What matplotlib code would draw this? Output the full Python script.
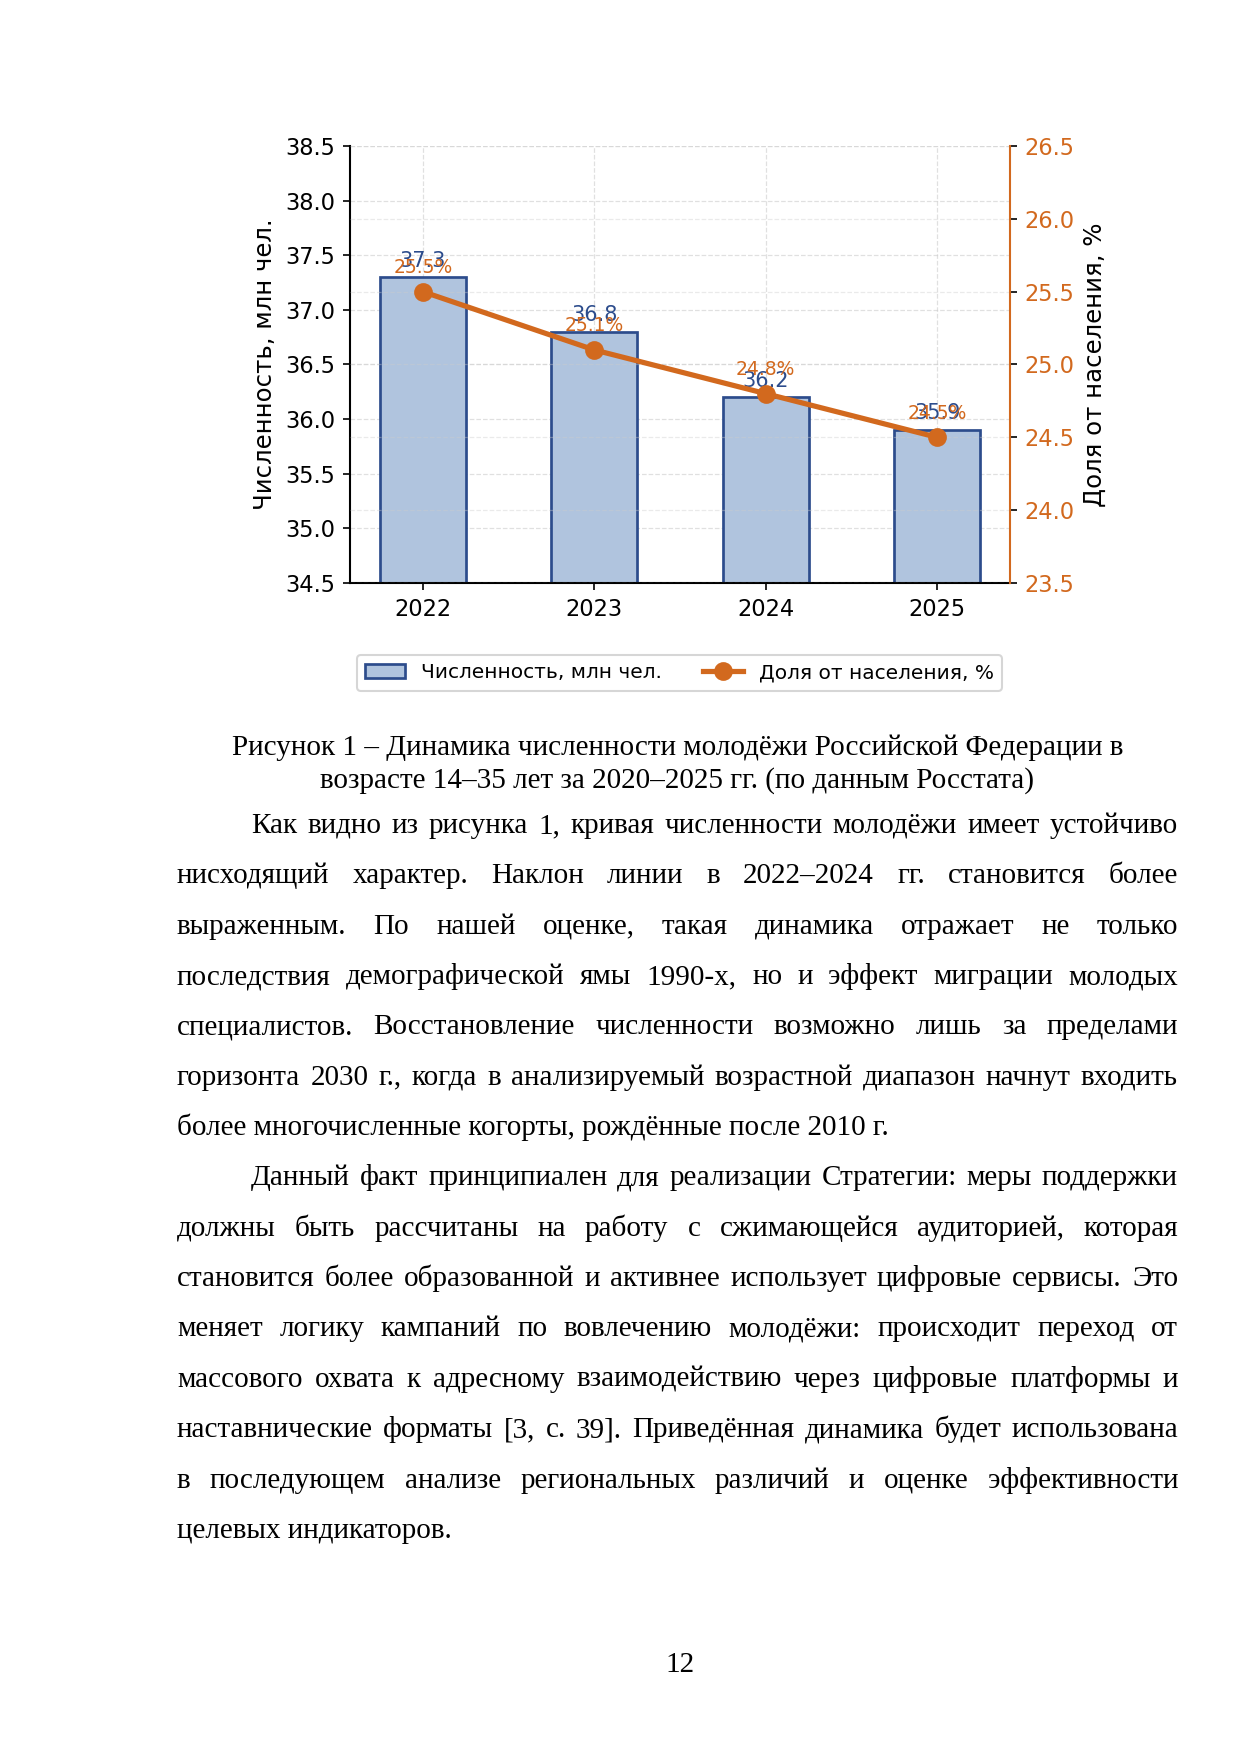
import matplotlib
matplotlib.use('Agg')
import matplotlib.pyplot as plt
import numpy as np

# chart data
years = ['2022', '2023', '2024', '2025']
youth_mln = [37.3, 36.8, 36.2, 35.9]
share_pct = [25.5, 25.1, 24.8, 24.5]

# page text
caption_lines = [
    'Рисунок 1 – Динамика численности молодёжи Российской Федерации в',
    'возрасте 14–35 лет за 2020–2025 гг. (по данным Росстата)',
]
paragraphs = [
    [
        'Как видно из рисунка 1, кривая численности молодёжи имеет устойчиво',
        'нисходящий характер. Наклон линии в 2022–2024 гг. становится более',
        'выраженным. По нашей оценке, такая динамика отражает не только',
        'последствия демографической ямы 1990-х, но и эффект миграции молодых',
        'специалистов. Восстановление численности возможно лишь за пределами',
        'горизонта 2030 г., когда в анализируемый возрастной диапазон начнут входить',
        'более многочисленные когорты, рождённые после 2010 г.',
    ],
    [
        'Данный факт принципиален для реализации Стратегии: меры поддержки',
        'должны быть рассчитаны на работу с сжимающейся аудиторией, которая',
        'становится более образованной и активнее использует цифровые сервисы. Это',
        'меняет логику кампаний по вовлечению молодёжи: происходит переход от',
        'массового охвата к адресному взаимодействию через цифровые платформы и',
        'наставнические форматы [3, с. 39]. Приведённая динамика будет использована',
        'в последующем анализе региональных различий и оценке эффективности',
        'целевых индикаторов.',
    ],
]
page_number = '12'

W, H = 1241, 1754
blue_face = '#B0C4DE'
blue_edge = '#2C4C8C'
orange = '#D2691E'

fig = plt.figure(figsize=(W / 150, H / 150), dpi=150)
ax1 = fig.add_axes([350 / W, 1 - 583 / H, 660 / W, 437 / H])
ax2 = ax1.twinx()

x = np.arange(len(years))
bars = ax1.bar(x, youth_mln, width=0.5, color=blue_face, edgecolor=blue_edge,
               linewidth=1.3, label='Численность, млн чел.', zorder=2)
ax1.set_ylim(34.5, 38.5)
ax1.set_yticks(np.arange(34.5, 38.51, 0.5))
ax1.set_xticks(x)
ax1.set_xticklabels(years)
ax1.set_ylabel('Численность, млн чел.', fontsize=11.7)
ax1.tick_params(labelsize=10.8)
ax1.set_axisbelow(True)
ax1.grid(True, linestyle='--', linewidth=0.6, color='#cccccc', alpha=0.6)
for xi, v in zip(x, youth_mln):
    ax1.text(xi, v + 0.06, f'{v}', ha='center', va='bottom', color=blue_edge, fontsize=10)

line, = ax2.plot(x, share_pct, color=orange, linewidth=2.5, marker='o', markersize=8,
                 label='Доля от населения, %')
ax2.set_ylim(23.5, 26.5)
ax2.set_yticks(np.arange(23.5, 26.51, 0.5))
ax2.set_ylabel('Доля от населения, %', fontsize=11.7)
ax2.tick_params(axis='y', labelsize=10.8, labelcolor=orange)
ax2.grid(True, axis='y', linestyle='--', linewidth=0.6, color='#cccccc', alpha=0.4)
for xi, p in zip(x, share_pct):
    ax2.text(xi, p + 0.1, f'{p}%', ha='center', va='bottom', color=orange, fontsize=9)

for s in ['top', 'right']:
    ax1.spines[s].set_visible(False)
for s in ['top', 'left', 'bottom']:
    ax2.spines[s].set_visible(False)
ax2.spines['right'].set_color(orange)
ax1.spines['left'].set_linewidth(1.0)
ax1.spines['bottom'].set_linewidth(1.0)
ax2.spines['right'].set_linewidth(1.0)

fig.legend([bars, line], ['Численность, млн чел.', 'Доля от населения, %'],
           loc='center', bbox_to_anchor=(679.5 / W, 1 - 673 / H), ncol=2,
           fontsize=9.7, frameon=True, edgecolor='#cccccc')

# document text
serif = 'Liberation Serif'
fs = 14
left_px, right_px = 177, 1178
indent_px = 74
center_px = (left_px + right_px) / 2

fig.text(center_px / W, 1 - 755 / H, caption_lines[0], ha='center', va='baseline',
         family=serif, fontsize=fs)
fig.text(center_px / W, 1 - 788 / H, caption_lines[1], ha='center', va='baseline',
         family=serif, fontsize=fs)

# justified paragraphs: place words one by one
renderer = fig.canvas.get_renderer()
y_px = 833
line_step = 50.35
for para in paragraphs:
    for i, ln in enumerate(para):
        start = left_px + (indent_px if i == 0 else 0)
        yf = 1 - y_px / H
        if i == len(para) - 1:
            fig.text(start / W, yf, ln, ha='left', va='baseline', family=serif, fontsize=fs)
        else:
            words = ln.split(' ')
            texts = [fig.text(0, yf, w, ha='left', va='baseline', family=serif, fontsize=fs)
                     for w in words]
            widths = [t.get_window_extent(renderer).width for t in texts]
            gap = (right_px - start - sum(widths)) / (len(words) - 1)
            xp = start
            for t, wd in zip(texts, widths):
                t.set_x(xp / W)
                xp += wd + gap
        y_px += line_step

fig.text(680 / W, 1 - 1672 / H, page_number, ha='center', va='baseline',
         family=serif, fontsize=fs)

fig.savefig('out.png', dpi=150)
